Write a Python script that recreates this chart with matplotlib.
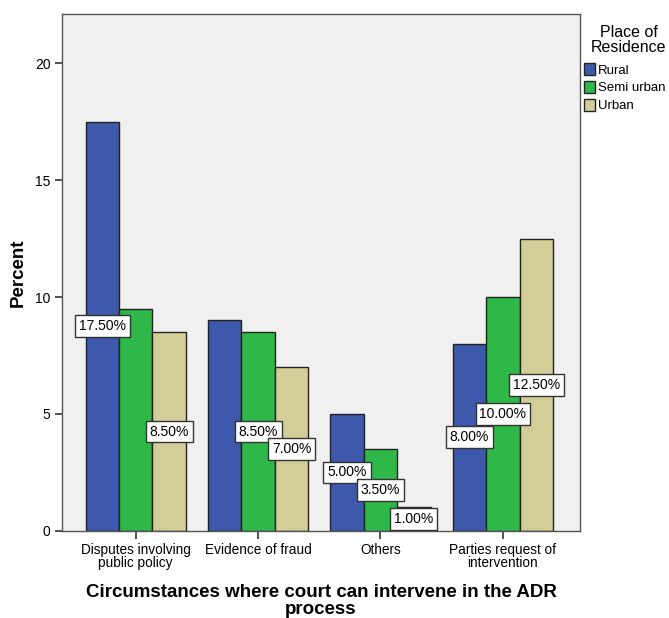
import numpy as np
import matplotlib.pyplot as plt

plt.rcParams['font.family'] = ['Liberation Sans', 'DejaVu Sans']

categories = ["Disputes involving\npublic policy", "Evidence of fraud", "Others",
              "Parties request of\nintervention"]
groups = ["Rural", "Semi urban", "Urban"]
rural = [17.5, 9.0, 5.0, 8.0]
semi_urban = [9.5, 8.5, 3.5, 10.0]
urban = [8.5, 7.0, 1.0, 12.5]
# labels SPSS left out because they overlapped (category, group)
hidden_labels = [(0, 1), (1, 0)]

colors = ["#3E58AC", "#2EB848", "#D3CE97"]

fig = plt.figure(figsize=(6.69, 6.18), dpi=100)
ax = fig.add_axes([0.093, 0.141, 0.774, 0.836])
ax.set_facecolor("#F0F0F0")

x = np.arange(len(categories))
w = 0.273
series = [rural, semi_urban, urban]
for i, (vals, name) in enumerate(zip(series, groups)):
    xs = x + (i - 1) * w
    ax.bar(xs, vals, width=w, color=colors[i], edgecolor="#222222", linewidth=1.0, label=name, zorder=2)
    for j, v in enumerate(vals):
        if (j, i) in hidden_labels:
            continue
        ax.text(xs[j], v / 2, f"{v:.2f}%", ha="center", va="center", fontsize=10, zorder=5,
                bbox=dict(boxstyle="square,pad=0.28", facecolor="white", edgecolor="#333333", linewidth=1.0))

ax.set_xlim(-0.6, 3.63)
ax.set_ylim(0, 22.1)
ax.set_yticks([0, 5, 10, 15, 20])
ax.set_xticks(x)
ax.set_xticklabels(categories, fontsize=9.8, linespacing=0.95)
ax.tick_params(axis="y", labelsize=10, length=5, width=1.2, color="#333333")
ax.tick_params(axis="x", length=6, width=1.2, color="#333333", pad=2.5)
for s in ax.spines.values():
    s.set_color("#555555")
    s.set_linewidth(1.0)

ax.set_ylabel("Percent", fontsize=13.5, fontweight="bold", labelpad=6)
ax.set_xlabel("Circumstances where court can intervene in the ADR\nprocess", fontsize=13.5,
              fontweight="bold", labelpad=10, linespacing=1.0)

fig.text(0.94, 0.96, "Place of\nResidence", ha="center", va="top", fontsize=11.5, linespacing=1.0)
leg = ax.legend(loc="upper left", bbox_to_anchor=(1.007, 0.905), frameon=False, fontsize=9.5,
                handlelength=0.85, handleheight=1.0, handletextpad=0.2, labelspacing=0.33,
                borderaxespad=0.0, borderpad=0.0)
for h in leg.legend_handles:
    h.set_edgecolor("#222222")

fig.savefig("out.png", dpi=100)
